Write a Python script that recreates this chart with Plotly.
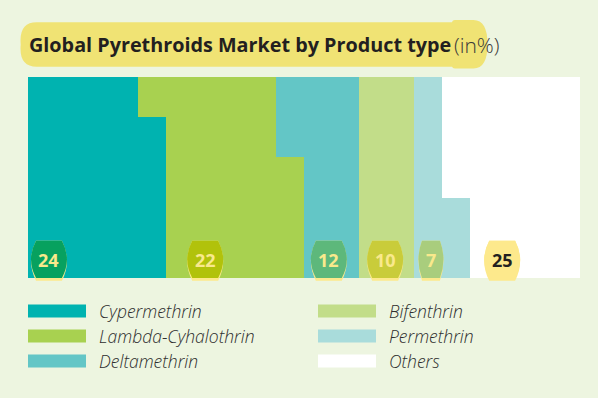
import plotly.graph_objects as go

# ---------------- data ----------------
series = ["Cypermethrin", "Lambda-Cyhalothrin", "Deltamethrin",
          "Bifenthrin", "Permethrin", "Others"]
bands = [4, 3, 2, 1, 0]                      # horizontal bands, top -> bottom
cypermethrin = [20, 25, 25, 25, 25]
lambda_cyhalothrin = [25, 20, 25, 25, 25]
deltamethrin = [15, 15, 10, 10, 10]
bifenthrin = [10, 10, 10, 10, 10]
permethrin = [5, 5, 5, 10, 10]
others = [25, 25, 25, 20, 20]
shares = [24, 22, 12, 10, 7, 25]             # labelled share, %

values = [cypermethrin, lambda_cyhalothrin, deltamethrin,
          bifenthrin, permethrin, others]

# ---------------- style ----------------
colors = ["#00b3b0", "#a8d150", "#63c6c6", "#c2dd89", "#a9dcdb", "#ffffff"]
bubble_colors = ["#07a15f", "#b1c20b", "#5db87b", "#c9cc3a", "#a9cd7d", "#fde98c"]
bubble_text = ["#f9e98c"] * 5 + ["#231f20"]
bubble_offset = [3.8, 7.1, 4.5, 4.7, 3.0, 5.9]   # % from segment start
bubble_halfw = [18, 18, 18, 18, 12.5, 18]
BG = "#edf5e0"
PILL = "#f0e374"
FONT = "Open Sans"

W, H = 598, 398
ML, MR, MT, MB = 28, 18, 77, 120
PW, PH = W - ML - MR, H - MT - MB


def px(x):
    return (x - ML) / PW


def py(y):
    return (H - MB - y) / PH


fig = go.Figure()
for name, vals, col in zip(series, values, colors):
    fig.add_trace(go.Bar(
        y=bands, x=vals, name=name, orientation="h",
        marker=dict(color=col, line=dict(width=0)),
        width=1, showlegend=False, hoverinfo="x+name"))

shapes = []
annotations = []

# ---- bubbles with values ----
bottom_row = [v[-1] for v in values]
start = 0
for i, share in enumerate(shares):
    cx = start + bubble_offset[i]
    start += bottom_row[i]
    hw = bubble_halfw[i]
    fw = hw * 0.72
    c = 2 * hw - fw

    def barrel(y0, y1):
        ym = (y0 + y1) / 2
        return (f"M {-fw},{y0} L {fw},{y0} Q {c},{ym} {fw},{y1} "
                f"L {-fw},{y1} Q {-c},{ym} {-fw},{y0} Z")

    shapes.append(dict(type="path", xref="x", yref="paper",
                       xsizemode="pixel", ysizemode="pixel",
                       xanchor=cx, yanchor=0,
                       path=barrel(-2.7, 37.3), fillcolor="#fde98c",
                       line=dict(width=0), layer="above"))
    shapes.append(dict(type="path", xref="x", yref="paper",
                       xsizemode="pixel", ysizemode="pixel",
                       xanchor=cx, yanchor=0,
                       path=barrel(0, 37.3), fillcolor=bubble_colors[i],
                       line=dict(width=0), layer="above"))
    annotations.append(dict(x=cx, xref="x", y=py(260), yref="paper",
                            text=f"<b>{share}</b>", showarrow=False,
                            xanchor="center", yanchor="middle",
                            font=dict(family=FONT, size=18,
                                      color=bubble_text[i])))

# ---- title pill ----
def P(x, y):
    return f"{px(x):.5f},{py(y):.5f}"

t, b, l, r = 22.3, 66.7, 20.7, 455
pill1 = (f"M {P(l+16, t)} L {P(r, t)} L {P(r, b)} L {P(l+16, b)} "
         f"Q {P(l-2, b)} {P(l, (t+b)/2)} Q {P(l-2, t)} {P(l+16, t)} Z")
t2, b2, l2, r2 = 20, 68.5, 452, 487.5
pill2 = (f"M {P(l2+3, t2)} L {P(r2-14, t2)} Q {P(r2, t2)} {P(r2, (t2+b2)/2)} "
         f"Q {P(r2, b2)} {P(r2-14, b2)} L {P(l2+3, b2)} "
         f"Q {P(l2, b2)} {P(l2, b2-3)} L {P(l2, t2+3)} Q {P(l2, t2)} {P(l2+3, t2)} Z")
for pth in (pill1, pill2):
    shapes.append(dict(type="path", xref="paper", yref="paper", path=pth,
                       fillcolor=PILL, line=dict(width=0), layer="below"))

annotations.append(dict(
    x=px(27), y=py(44.5), xref="paper", yref="paper",
    xanchor="left", yanchor="middle", showarrow=False,
    text="<b>Global Pyrethroids Market by Product type</b>",
    font=dict(family=FONT, size=19.8, color="#231f20")))
annotations.append(dict(
    x=px(452), y=py(44.5), xref="paper", yref="paper",
    xanchor="left", yanchor="middle", showarrow=False,
    text="(in%)",
    font=dict(family=FONT, size=21, color="#3a3a3a", weight=300)))

# ---- legend ----
leg_cols = [(28, 86, 97), (318, 376, 387)]
leg_rows = [311, 336, 361]
for i, name in enumerate(series):
    x0, x1, tx = leg_cols[i // 3]
    yc = leg_rows[i % 3]
    shapes.append(dict(type="rect", xref="paper", yref="paper",
                       x0=px(x0), x1=px(x1), y0=py(yc - 6.6), y1=py(yc + 6.6),
                       fillcolor=colors[i], line=dict(width=0)))
    annotations.append(dict(x=px(tx), y=py(yc), xref="paper", yref="paper",
                            xanchor="left", yanchor="middle", showarrow=False,
                            text=f"<i>{name}</i>",
                            font=dict(family=FONT, size=17.5, color="#2e2e2e",
                                      weight=300)))

fig.update_layout(
    width=W, height=H,
    margin=dict(l=ML, r=MR, t=MT, b=MB),
    paper_bgcolor=BG, plot_bgcolor=BG,
    barmode="stack", bargap=0,
    xaxis=dict(range=[0, 100], visible=False, fixedrange=True),
    yaxis=dict(range=[-0.5, 4.5], visible=False, fixedrange=True),
    shapes=shapes, annotations=annotations,
)

fig.write_html("out.html", config={"displayModeBar": False},
               post_script="document.body.style.margin='0';")
